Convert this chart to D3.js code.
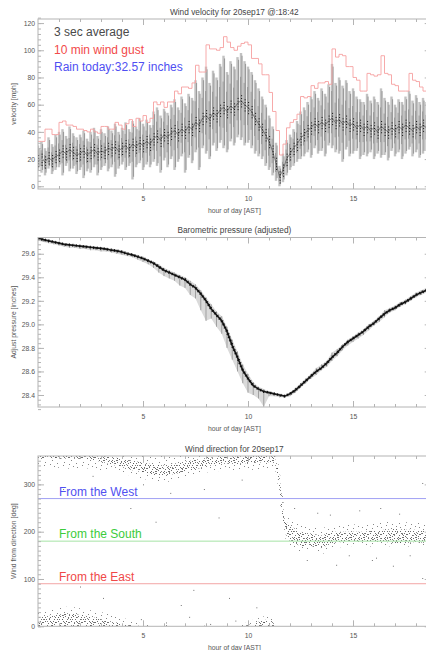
<!DOCTYPE html>
<html>
<head>
<meta charset="utf-8">
<script src="https://cdn.jsdelivr.net/npm/d3@7"></script>
<style>
body { margin: 0; background: #fff; }
svg { display: block; font-family: "Liberation Sans", Arial, Helvetica, sans-serif; }
</style>
</head>
<body>
<svg id="chart" width="426" height="650"></svg>
<script>
"use strict";

// ---- data ----
const HOUR_START = 0, HOUR_END = 18.7;   // 18:42 AST
const VEL_STEP_H = 1 / 6;                // 10 min bins

// wind velocity [mph], one value per 10 min
const velGust = [33,33,42,42,38,38,47,48,45,45, 44,42,42,41,40,42,40,39,44,44,
    42,42,47,45,42,46,49,44,50,48, 52,47,50,62,60,62,58,62,62,70,
    68,73,73,72,76,89,84,84,104,101, 101,100,102,110,106,102,100,103,105,106,
    104,94,94,90,82,82,69,55,41,23, 31,43,47,49,53,66,65,66,74,72,
    76,76,77,75,101,95,97,96,88,88, 80,78,70,70,83,82,81,82,96,83,
    82,75,74,70,70,70,83,78,77,73, 70,69,74];
const velMid = [19,20,18,21,19,22,23,26,24,27, 25,23,24,26,23,25,27,24,26,25,
    28,27,29,26,28,30,27,31,29,32, 30,33,31,35,37,34,38,36,39,41,
    38,42,40,44,42,47,45,50,52,49, 54,52,56,58,55,59,57,61,63,60,
    58,55,50,46,42,38,33,26,17,7, 12,20,24,28,31,35,38,41,43,46,
    44,47,45,48,50,47,49,46,48,45, 46,43,45,42,44,41,43,40,44,42,
    40,43,41,44,42,45,43,41,44,42, 45,43,46];
const velHigh = [30,33,28,36,31,38,40,42,37,44, 39,36,38,41,35,40,43,37,42,39,
    44,41,46,40,43,47,42,48,44,50, 46,49,45,55,58,52,57,54,60,64,
    58,66,61,68,65,78,70,80,88,76, 85,80,90,96,84,92,88,95,98,92,
    88,84,78,72,66,60,52,44,32,15, 24,34,38,42,48,55,58,62,66,70,
    65,72,68,75,90,76,80,74,78,70, 72,66,64,62,68,63,66,62,72,65,
    62,66,60,64,62,66,70,63,67,62, 65,62,66];
const velLow = [12,10,8,13,9,12,14,8,15,11, 13,9,12,6,11,10,14,8,12,15,
    11,14,7,13,16,12,15,5,14,17, 12,16,14,18,15,10,19,14,20,12,
    18,22,10,21,17,25,12,28,24,20, 30,26,32,28,25,33,30,36,34,30,
    32,28,24,22,20,15,12,8,4,0, 3,8,12,15,18,20,22,25,21,28,
    24,26,22,30,28,25,24,18,27,22, 24,26,20,23,22,25,20,24,21,23,
    19,26,22,25,20,24,27,22,25,21, 24,26,23];
const legendLines = ["3 sec average", "10 min wind gust", "Rain today:32.57 inches"];

// barometric pressure [inches], one value per 15 min
const PRES_STEP_H = 0.25;
const presMean = [29.73,29.72,29.71,29.70,29.69,29.68,29.675,29.67,29.665,29.66,
    29.655,29.65,29.645,29.64,29.63,29.625,29.615,29.60,29.59,29.575,
    29.56,29.54,29.52,29.49,29.46,29.44,29.42,29.40,29.38,29.34,
    29.31,29.26,29.20,29.13,29.08,29.03,28.94,28.82,28.72,28.61,
    28.54,28.48,28.45,28.43,28.42,28.41,28.40,28.39,28.41,28.44,
    28.48,28.52,28.56,28.60,28.63,28.67,28.72,28.76,28.81,28.85,
    28.88,28.91,28.94,28.98,29.01,29.05,29.09,29.12,29.14,29.17,
    29.19,29.22,29.25,29.27,29.29];
const presLow = [29.71,29.70,29.69,29.68,29.67,29.66,29.65,29.65,29.64,29.64,
    29.63,29.63,29.62,29.62,29.61,29.60,29.59,29.58,29.57,29.55,
    29.53,29.51,29.48,29.44,29.41,29.39,29.37,29.33,29.31,29.25,
    29.22,29.12,29.03,29.05,28.98,28.92,28.80,28.70,28.60,28.50,
    28.42,28.40,28.37,28.30,28.39,28.39,28.38,28.38,28.39,28.42,
    28.46,28.50,28.54,28.57,28.61,28.64,28.69,28.73,28.78,28.82,
    28.85,28.88,28.91,28.95,28.99,29.02,29.06,29.10,29.12,29.15,
    29.17,29.20,29.23,29.25,29.27];
const presHigh = [29.74,29.73,29.72,29.71,29.70,29.69,29.685,29.68,29.675,29.67,
    29.665,29.66,29.655,29.65,29.645,29.635,29.63,29.615,29.60,29.59,
    29.575,29.555,29.535,29.51,29.48,29.46,29.44,29.42,29.40,29.37,
    29.34,29.29,29.23,29.17,29.11,29.07,28.98,28.87,28.77,28.66,
    28.58,28.51,28.47,28.45,28.43,28.42,28.41,28.40,28.42,28.46,
    28.50,28.54,28.58,28.63,28.66,28.69,28.76,28.79,28.83,28.87,
    28.90,28.93,28.96,29.00,29.03,29.07,29.12,29.14,29.16,29.19,
    29.21,29.24,29.27,29.29,29.31];

// wind direction [deg]: point clouds as envelopes (outer = sparse, inner = dense)
const DIR_MAX = 360;
const northHours   = [0,0.5,1,1.5,2,2.5,3,3.5,4,4.5,5,5.5,6,6.5,7,7.5,8,8.5,9,9.5,10,10.5,11,11.3];
const northOuterLo = [338,335,335,333,335,333,330,328,322,318,312,306,304,308,314,320,325,328,330,330,330,332,334,336];
const northInnerLo = [356,356,355,354,354,352,348,342,336,330,325,320,318,322,326,332,338,342,344,343,345,346,347,348];
const northInnerHi = [360,360,360,360,360,360,359,358,354,350,346,342,340,344,348,352,356,358,359,359,360,360,360,360];

const nearZeroHours   = [0,0.5,1,1.5,2,2.5,3,3.5,4,4.5,5, 9.6,10,10.4,10.8,11.1,11.3];
const nearZeroOuterHi = [30,36,40,42,38,34,30,24,18,12,4, 0,10,16,22,20,8];
const nearZeroInnerHi = [18,22,25,28,24,20,15,10,6,3,0, 0,3,8,14,12,2];

const southHours   = [11.3,11.45,11.6,11.75,12,12.5,13,13.5,14,14.5,15,15.5,16,16.5,17,17.5,18,18.5,18.7];
const southOuterLo = [330,290,230,188,168,158,160,152,163,168,170,170,168,170,168,168,170,168,168];
const southOuterHi = [358,345,300,240,225,215,210,208,212,215,215,216,218,220,222,220,220,218,218];
const southInnerLo = [338,305,245,198,180,170,170,165,176,178,180,178,178,178,176,176,178,176,176];
const southInnerHi = [352,335,280,225,212,200,196,192,200,200,200,200,202,204,206,204,204,202,202];

const strayHours = [1.2,2.0,2.6,3.1,3.9,4.4,5.0,5.6,6.3,6.8,7.4,7.9,8.6,9.1,9.7,10.4,12.2,12.8,13.3,
    13.9,14.2,14.8,15.3,15.9,16.1,16.3,16.9,17.2,17.7,18.3,18.3,18.6,4.9,6.1,7.2,8.2,9.4];
const strayDirs  = [290,84,318,60,275,250,300,221,282,45,77,290,230,60,310,40,250,140,240,
    236,130,150,245,140,145,250,128,238,150,303,102,140,15,8,20,5,12];

const compassDirs   = [270, 180, 90];
const compassLabels = ["From the West", "From the South", "From the East"];
const compassColors = ["#5050f0", "#3ccc3c", "#f04848"];
const compassLines  = ["#a0a0f4", "#a6e4a6", "#f3a6a6"];

const xTickValues = [5, 10, 15];

// ---- drawing ----
const svg = d3.select('#chart');
const X_LEFT = 38, X_RIGHT = 430.7;
const AXIS_COLOR = '#b4b4b4';
const TEXT_COLOR = '#555';

function makeGraph(spec) {
    const xScale = d3.scaleLinear()
        .domain([HOUR_START, HOUR_END])
        .range([X_LEFT, X_RIGHT]);
    const yScale = d3.scaleLinear()
        .domain([spec.ymin, spec.ymax])
        .range([spec.bottom, spec.top]);
    svg.append('clipPath').attr('id', spec.id + '-clip')
        .append('rect')
        .attr('x', X_LEFT).attr('y', spec.top)
        .attr('width', X_RIGHT - X_LEFT).attr('height', spec.bottom - spec.top);
    const g = svg.append('g');
    const plot = g.append('g').attr('clip-path', `url(#${spec.id}-clip)`);
    return {xScale: xScale, yScale: yScale, g: g, plot: plot, spec: spec};
}

function styleAxis(sel) {
    sel.select('.domain').remove();
    sel.selectAll('line').attr('stroke', AXIS_COLOR);
    sel.selectAll('text').attr('fill', TEXT_COLOR).attr('font-size', 6.8);
}

function drawFrame(graph) {
    const {xScale, yScale, g, spec} = graph;
    const minorX = d3.range(1, 19).filter(h => h % 5 != 0);
    const minorY = d3.range(spec.ymin, spec.ymax, spec.yminor)
        .map(v => Math.round(v / spec.yminor) * spec.yminor);

    g.append('g').attr('transform', `translate(0,${spec.bottom})`)
        .call(d3.axisBottom(xScale).tickValues(xTickValues).tickSize(-6).tickPadding(7).tickFormat(d3.format('d')))
        .call(styleAxis);
    g.append('g').attr('transform', `translate(0,${spec.bottom})`)
        .call(d3.axisBottom(xScale).tickValues(minorX).tickSize(-3).tickFormat(''))
        .call(styleAxis);
    g.append('g').attr('transform', `translate(0,${spec.top})`)
        .call(d3.axisTop(xScale).tickValues(xTickValues).tickSize(-6).tickFormat(''))
        .call(styleAxis);
    g.append('g').attr('transform', `translate(0,${spec.top})`)
        .call(d3.axisTop(xScale).tickValues(minorX).tickSize(-3).tickFormat(''))
        .call(styleAxis);

    g.append('g').attr('transform', `translate(${X_LEFT},0)`)
        .call(d3.axisLeft(yScale).tickValues(spec.yticks).tickSize(-6).tickPadding(3).tickFormat(spec.yformat))
        .call(styleAxis);
    g.append('g').attr('transform', `translate(${X_LEFT},0)`)
        .call(d3.axisLeft(yScale).tickValues(minorY).tickSize(-3).tickFormat(''))
        .call(styleAxis);
    g.append('g').attr('transform', `translate(${X_RIGHT},0)`)
        .call(d3.axisRight(yScale).tickValues(spec.yticks).tickSize(-6).tickFormat(''))
        .call(styleAxis);
    g.append('g').attr('transform', `translate(${X_RIGHT},0)`)
        .call(d3.axisRight(yScale).tickValues(minorY).tickSize(-3).tickFormat(''))
        .call(styleAxis);

    g.append('rect')
        .attr('x', X_LEFT).attr('y', spec.top)
        .attr('width', X_RIGHT - X_LEFT).attr('height', spec.bottom - spec.top)
        .attr('fill', 'none').attr('stroke', AXIS_COLOR).attr('stroke-width', 1);

    const cx = (X_LEFT + X_RIGHT) / 2;
    g.append('text')
        .attr('x', cx).attr('y', spec.top - 4.5)
        .attr('text-anchor', 'middle').attr('font-size', 8.3).attr('fill', '#444')
        .text(spec.title);
    g.append('text')
        .attr('x', cx).attr('y', spec.bottom + 23.5)
        .attr('text-anchor', 'middle').attr('font-size', 6.8).attr('fill', TEXT_COLOR)
        .text('hour of day [AST]');
    g.append('text')
        .attr('transform', `translate(15.5,${(spec.top + spec.bottom) / 2}) rotate(-90)`)
        .attr('text-anchor', 'middle').attr('font-size', 6.8).attr('fill', TEXT_COLOR)
        .text(spec.ylabel);
}

// dotted textures used to render the direction point clouds
function addDotPattern(id, w, h, dots, color) {
    const p = svg.append('defs').append('pattern')
        .attr('id', id).attr('patternUnits', 'userSpaceOnUse')
        .attr('width', w).attr('height', h);
    for (let d of dots) {
        p.append('rect').attr('x', d[0]).attr('y', d[1])
            .attr('width', 0.9).attr('height', 0.9).attr('fill', color);
    }
}
addDotPattern('dots-sparse', 19, 15,
    [[1,2],[6,0],[11,3],[16,1],[3,8],[9,6],[14,10],[0,13],[7,12],[12,14],[5,4],[17,7]], '#6a6a6a');
addDotPattern('dots-dense', 13, 11,
    [[0,0],[3,1],[8,0],[10,3],[1,5],[5,3],[9,7],[2,8],[7,10],[4,6],[12,9],[6,1],[0,9],[11,5],
     [2,3],[6,5],[8,9],[11,1],[4,10],[10,10],[0,7],[7,3],[3,6],[12,6]], '#4a4a4a');

function run() {
    // ---------- panel 1: wind velocity ----------
    const vel = makeGraph({
        id: 'vel', top: 19, bottom: 189, ymin: -2, ymax: 123,
        yticks: [0, 20, 40, 60, 80, 100, 120], yminor: 4, yformat: d3.format('d'),
        title: 'Wind velocity for 20sep17 @:18:42', ylabel: 'velocity [mph]'
    });
    const velocity = velMid.map((m, i) => ({
        h: i * VEL_STEP_H, lo: velLow[i], mid: m, hi: velHigh[i], gust: velGust[i]
    }));
    vel.plot.append('g').selectAll('line').data(velocity).join('line')
        .attr('x1', d => vel.xScale(d.h)).attr('x2', d => vel.xScale(d.h))
        .attr('y1', d => vel.yScale(d.lo)).attr('y2', d => vel.yScale(d.hi))
        .attr('stroke', '#c2c2c2').attr('stroke-width', 2.4);
    vel.plot.append('g').selectAll('line').data(velocity).join('line')
        .attr('x1', d => vel.xScale(d.h) + 1.1).attr('x2', d => vel.xScale(d.h) + 1.1)
        .attr('y1', d => vel.yScale(d.lo + 2)).attr('y2', d => vel.yScale(d.hi - 2))
        .attr('stroke', '#6a6a6a').attr('stroke-width', 0.6);
    vel.plot.append('g').selectAll('line').data(velocity).join('line')
        .attr('x1', d => vel.xScale(d.h) - 0.4).attr('x2', d => vel.xScale(d.h) - 0.4)
        .attr('y1', d => vel.yScale((d.lo + d.mid) / 2)).attr('y2', d => vel.yScale((d.hi + d.mid) / 2))
        .attr('stroke', '#7a7a7a').attr('stroke-width', 0.6);
    vel.plot.append('path').datum(velocity)
        .attr('d', d3.line().x(d => vel.xScale(d.h)).y(d => vel.yScale(d.mid)))
        .attr('fill', 'none').attr('stroke', '#444').attr('stroke-width', 0.6);
    vel.plot.append('g').selectAll('line').data(velocity).join('line')
        .attr('x1', d => vel.xScale(d.h) + 0.6).attr('x2', d => vel.xScale(d.h) + 0.6)
        .attr('y1', d => vel.yScale(d.mid - 5)).attr('y2', d => vel.yScale(d.mid + 5))
        .attr('stroke', '#111').attr('stroke-width', 1).attr('stroke-dasharray', '1,1.8');
    const gustSteps = velocity.concat([{h: HOUR_END, gust: velGust[velGust.length - 1]}]);
    vel.plot.append('path').datum(gustSteps)
        .attr('d', d3.line().curve(d3.curveStepAfter).x(d => vel.xScale(d.h)).y(d => vel.yScale(d.gust)))
        .attr('fill', 'none').attr('stroke', '#f6a0a0').attr('stroke-width', 0.9);
    drawFrame(vel);
    const legendColors = ['#4a4a4a', '#f24a4a', '#4f4ff2'];
    legendLines.forEach((t, i) => {
        vel.g.append('text')
            .attr('x', 54).attr('y', 36 + i * 17.5)
            .attr('font-size', 12).attr('fill', legendColors[i])
            .text(t);
    });

    // ---------- panel 2: barometric pressure ----------
    const pres = makeGraph({
        id: 'pres', top: 237.5, bottom: 407, ymin: 28.298, ymax: 29.738,
        yticks: [28.4, 28.6, 28.8, 29.0, 29.2, 29.4, 29.6], yminor: 0.04, yformat: d3.format('.1f'),
        title: 'Barometric pressure (adjusted)', ylabel: 'Adjust pressure [inches]'
    });
    const pressure = presMean.map((m, i) => ({
        h: i * PRES_STEP_H, lo: presLow[i], mean: m, hi: presHigh[i]
    }));
    pres.plot.append('path').datum(pressure)
        .attr('d', d3.area().x(d => pres.xScale(d.h)).y0(d => pres.yScale(d.lo)).y1(d => pres.yScale(d.hi)))
        .attr('fill', '#dadada');
    pres.plot.append('g').selectAll('line').data(pressure).join('line')
        .attr('x1', d => pres.xScale(d.h)).attr('x2', d => pres.xScale(d.h))
        .attr('y1', d => pres.yScale(d.lo)).attr('y2', d => pres.yScale(d.hi))
        .attr('stroke', '#999').attr('stroke-width', 0.9);
    pres.plot.append('path').datum(pressure)
        .attr('d', d3.line().x(d => pres.xScale(d.h)).y(d => pres.yScale(d.mean)))
        .attr('fill', 'none').attr('stroke', '#1a1a1a').attr('stroke-width', 1.7);
    pres.plot.append('path').datum(pressure)
        .attr('d', d3.line().x(d => pres.xScale(d.h)).y(d => pres.yScale(d.mean)))
        .attr('fill', 'none').attr('stroke', '#000').attr('stroke-width', 3)
        .attr('stroke-dasharray', '1,2.5').attr('opacity', 0.8);
    drawFrame(pres);

    // ---------- panel 3: wind direction ----------
    const dir = makeGraph({
        id: 'dir', top: 456, bottom: 626.3, ymin: 0, ymax: DIR_MAX,
        yticks: [0, 100, 200, 300], yminor: 10, yformat: d3.format('d'),
        title: 'Wind direction for 20sep17', ylabel: 'Wind from direction [deg]'
    });
    function cloud(hours, lo, hi, pattern) {
        const pts = hours.map((h, i) => ({h: h, lo: lo[i], hi: hi[i]}));
        dir.plot.append('path').datum(pts)
            .attr('d', d3.area().x(d => dir.xScale(d.h)).y0(d => dir.yScale(d.lo)).y1(d => dir.yScale(d.hi)))
            .attr('fill', `url(#${pattern})`);
    }
    const top = northHours.map(() => DIR_MAX);
    const zero = nearZeroHours.map(() => 0);
    cloud(northHours, northOuterLo, top, 'dots-sparse');
    cloud(northHours, northInnerLo, northInnerHi, 'dots-dense');
    cloud(nearZeroHours, zero, nearZeroOuterHi, 'dots-sparse');
    cloud(nearZeroHours, zero, nearZeroInnerHi, 'dots-dense');
    cloud(southHours, southOuterLo, southOuterHi, 'dots-sparse');
    cloud(southHours, southInnerLo, southInnerHi, 'dots-dense');
    dir.plot.append('g').selectAll('rect').data(strayHours).join('rect')
        .attr('x', h => dir.xScale(h)).attr('y', (h, i) => dir.yScale(strayDirs[i]))
        .attr('width', 0.9).attr('height', 0.9).attr('fill', '#555');

    compassDirs.forEach((deg, i) => {
        dir.plot.append('line')
            .attr('x1', X_LEFT).attr('x2', X_RIGHT)
            .attr('y1', dir.yScale(deg)).attr('y2', dir.yScale(deg))
            .attr('stroke', compassLines[i]).attr('stroke-width', 1);
        dir.g.append('text')
            .attr('x', 59).attr('y', dir.yScale(deg) - 3)
            .attr('font-size', 12).attr('fill', compassColors[i])
            .text(compassLabels[i]);
    });
    drawFrame(dir);
}

run();
</script>
</body>
</html>
